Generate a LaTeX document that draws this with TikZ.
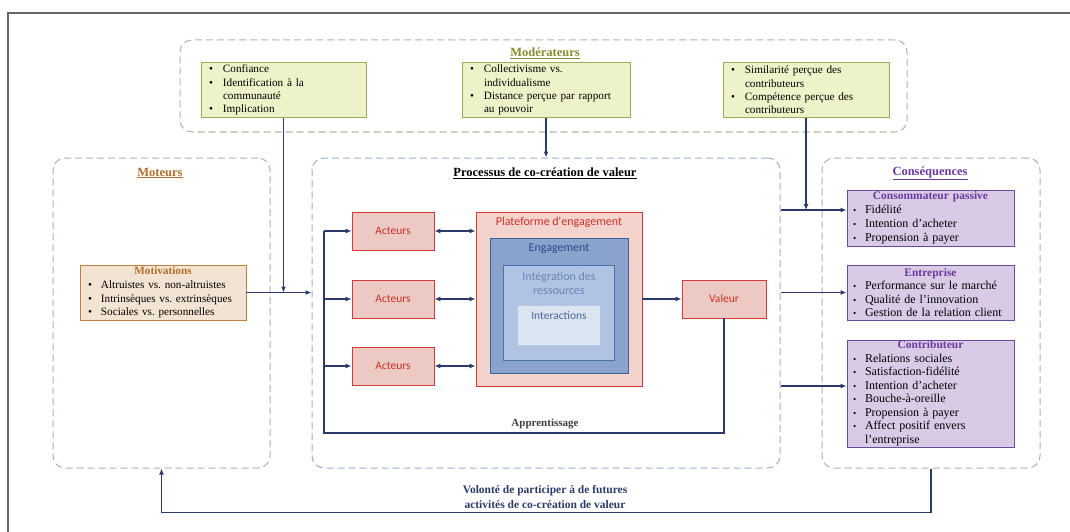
\documentclass[tikz,border=0pt]{standalone}
\usepackage{fontspec}
\setmainfont{Liberation Serif}
\newfontfamily\calfont{Carlito}
\usetikzlibrary{arrows.meta,calc}
\frenchspacing
\definecolor{navy}{HTML}{2C3A6A}
\definecolor{olivet}{HTML}{8A8A30}
\definecolor{modfill}{HTML}{EEF2C8}
\definecolor{moddraw}{HTML}{9AAA5A}
\definecolor{brownt}{HTML}{B0702A}
\definecolor{motfill}{HTML}{F3E3D3}
\definecolor{motdraw}{HTML}{C08040}
\definecolor{redd}{HTML}{D03A3A}
\definecolor{redt}{HTML}{C8322A}
\definecolor{actfill}{HTML}{ECC9C3}
\definecolor{platfill}{HTML}{F5D3CD}
\definecolor{engfill}{HTML}{8AA3CC}
\definecolor{engdraw}{HTML}{3F5F9A}
\definecolor{engt}{HTML}{2A4A8A}
\definecolor{intfill}{HTML}{B0C3E2}
\definecolor{intdraw}{HTML}{4F6FA8}
\definecolor{intt}{HTML}{6A85B5}
\definecolor{itafill}{HTML}{DBE4F1}
\definecolor{itadraw}{HTML}{B8C8E0}
\definecolor{ita}{HTML}{4A6A9A}
\definecolor{purplet}{HTML}{6A3AA0}
\definecolor{purfill}{HTML}{D9CBE6}
\definecolor{purdraw}{HTML}{6A4A9A}
\definecolor{gmod}{HTML}{B4B4A4}
\definecolor{gmot}{HTML}{B8B0A8}
\definecolor{gproc}{HTML}{9AB0D0}
\definecolor{gcons}{HTML}{B0B0B8}
\newcommand\bl{\makebox[14pt][l]{\textbullet}}
\newcommand\sbl{\makebox[13pt][l]{\textbullet}}
\newcommand\cbl{\makebox[12pt][l]{\small\textbullet}}
\begin{document}
\begin{tikzpicture}[x=1pt,y=-1pt,
  group/.style={draw=#1, dash pattern=on 7pt off 4pt, rounded corners=12pt, line width=1pt, fill=white, inner sep=0pt},
  sectitle/.style={font=\fontsize{12.5}{14}\selectfont\bfseries, inner sep=0pt},
  modbox/.style={draw=moddraw, fill=modfill, line width=0.9pt, inner xsep=8pt, inner ysep=0pt, align=left, font=\fontsize{11.2}{13.3}\selectfont, minimum height=55pt, text width=#1},
  motbox/.style={draw=motdraw, fill=motfill, line width=0.9pt, inner xsep=8pt, inner ysep=0pt, minimum width=166pt, minimum height=55pt, text width=150pt, align=left, font=\fontsize{11.2}{13.8}\selectfont},
  consbox/.style={draw=purdraw, fill=purfill, line width=0.9pt, inner xsep=6pt, inner ysep=0pt, minimum width=167pt, text width=155pt, align=left, font=\fontsize{12}{#1}\selectfont},
  redbox/.style={draw=redd, fill=actfill, line width=0.9pt, text=redt, font=\calfont\fontsize{11.5}{12}\selectfont, inner sep=0pt},
  stext/.style={font=\calfont\fontsize{12}{13.5}\selectfont, inner sep=0pt, align=center},
  arr/.style={draw=navy, line width=1.2pt, -{Latex[length=6pt,width=5pt]}},
  biarr/.style={draw=navy, line width=1.2pt, {Latex[length=6pt,width=5pt]}-{Latex[length=6pt,width=5pt]}},
  line/.style={draw=navy, line width=1.2pt}]
\useasboundingbox (0,0) rectangle (1070,532);
\draw[draw=black!60, line width=1.2pt] (8,532) -- (8,13) -- (1070,13);

% --- Modérateurs ---
\node[group=gmod, minimum width=727pt, minimum height=92pt] (mod) at (543.5,86) {};
\node[sectitle, text=olivet] (modt) at (545,53) {\underline{Modérateurs}};
\node[modbox=149pt] (m1) at (283.5,90) {\bl Confiance\\\bl Identification à la\\\hspace*{14pt}communauté\\\bl Implication};
\node[modbox=152pt] (m2) at (546,90) {\bl Collectivisme vs.\\\hspace*{14pt}individualisme\\\bl Distance perçue par rapport\\\hspace*{14pt}au pouvoir};
\node[modbox=150pt] (m3) at (806,90) {\bl Similarité perçue des\\\hspace*{14pt}contributeurs\\\bl Compétence perçue des\\\hspace*{14pt}contributeurs};

% --- Moteurs ---
\node[group=gmot, minimum width=217pt, minimum height=310pt] (mot) at (161.5,313) {};
\node[sectitle, text=brownt] (mott) at (160,173) {\underline{Moteurs}};
\node[motbox] (motiv) at (163,292.5) {{\centering\color{brownt}\textbf{Motivations}\par}\sbl Altruistes vs. non-altruistes\\\sbl \mbox{Intrinsèques vs. extrinsèques}\\\sbl Sociales vs. personnelles};

% --- Processus ---
\node[group=gproc, minimum width=468pt, minimum height=310pt] (proc) at (546,313) {};
\node[sectitle] (proct) at (545,173) {\underline{Processus de co-création de valeur}};
\node[redbox, minimum width=82pt, minimum height=38pt] (a1) at (393,231) {Acteurs};
\node[redbox, minimum width=82pt, minimum height=38pt] (a2) at (393,299) {Acteurs};
\node[redbox, minimum width=82pt, minimum height=38pt] (a3) at (393,366) {Acteurs};
\node[draw=redd, fill=platfill, line width=0.9pt, minimum width=166pt, minimum height=174pt, inner sep=0pt] (plat) at (559,299) {};
\node[stext, text=redt] (platt) at (559,222) {Plateforme d'engagement};
\node[draw=engdraw, fill=engfill, line width=1pt, minimum width=138pt, minimum height=135pt, inner sep=0pt] (eng) at (559,305.5) {};
\node[stext, text=engt] (engt) at (559,249) {Engagement};
\node[draw=intdraw, fill=intfill, line width=1pt, minimum width=111pt, minimum height=95pt, inner sep=0pt] (int) at (559,312.5) {};
\node[stext, text=intt] (intt) at (559,283.5) {Intégration des\\ressources};
\node[draw=itadraw, fill=itafill, line width=0.8pt, minimum width=83pt, minimum height=40pt, inner sep=0pt] (ita) at (559,325) {};
\node[stext, text=ita, font=\calfont\fontsize{11.5}{13}\selectfont] (itat) at (559,316) {Interactions};
\node[redbox, minimum width=84pt, minimum height=38pt] (v) at (724,299) {Valeur};
\node[inner sep=0pt, font=\fontsize{11}{12}\selectfont\bfseries, text=black!75] (app) at (545,424) {Apprentissage};

\coordinate (lb) at (324,433);
\draw[line] (v.south) |- (lb) -- (lb |- a1.west);
\draw[arr] (lb |- a1.west) -- (a1.west);
\draw[arr] (lb |- a2.west) -- (a2.west);
\draw[arr] (lb |- a3.west) -- (a3.west);
\draw[biarr] (a1.east) -- (a1.east -| plat.west);
\draw[biarr] (a2.east) -- (a2.east -| plat.west);
\draw[biarr] (a3.east) -- (a3.east -| plat.west);
\draw[arr] (plat.east |- v.west) -- (v.west);

% --- Conséquences ---
\node[group=gcons, minimum width=218pt, minimum height=310pt] (cons) at (931,313) {};
\node[sectitle, text=purplet] (const) at (930,173) {\underline{Conséquences}};
\node[consbox=14, minimum height=56pt] (cp) at (930.5,218) {{\centering\color{purplet}\fontsize{11.5}{14}\selectfont\textbf{Consommateur passive}\par}\cbl Fidélité\\\cbl Intention d'acheter\\\cbl Propension à payer};
\node[consbox=13.6, minimum height=55pt] (ent) at (930.5,292.5) {{\centering\color{purplet}\fontsize{11.5}{13.6}\selectfont\textbf{Entreprise}\par}\cbl Performance sur le marché\\\cbl Qualité de l'innovation\\\cbl Gestion de la relation client};
\node[consbox=13.5, minimum height=107pt] (ctr) at (930.5,393.5) {{\centering\color{purplet}\fontsize{11.5}{13.5}\selectfont\textbf{Contributeur}\par}\cbl Relations sociales\\\cbl Satisfaction-fidélité\\\cbl Intention d'acheter\\\cbl Bouche-à-oreille\\\cbl Propension à payer\\\cbl Affect positif envers\\\hspace*{12pt}l'entreprise};

% --- connectors ---
\coordinate (pcp) at ([yshift=8pt]cp.west);
\coordinate (pctr) at ([yshift=7.5pt]ctr.west);
\draw[arr] (motiv.east) -- (motiv.east -| proc.west);
\draw[arr] (m1.south) -- (m1.south |- motiv.east);
\draw[arr] (m2.south) -- (proc.north);
\draw[arr] (m3.south) -- (m3.south |- pcp);
\draw[arr] (proc.east |- pcp) -- (pcp);
\draw[arr] (proc.east |- ent.west) -- (ent.west);
\draw[arr] (proc.east |- pctr) -- (pctr);
\draw[arr] (cons.south) -- ++(0,44) -| (mot.south);
\node[inner sep=0pt, align=center, font=\fontsize{11.5}{15}\selectfont\bfseries, text=navy] (vol) at (545,497) {Volonté de participer à de futures\\activités de co-création de valeur};
\end{tikzpicture}
\end{document}
